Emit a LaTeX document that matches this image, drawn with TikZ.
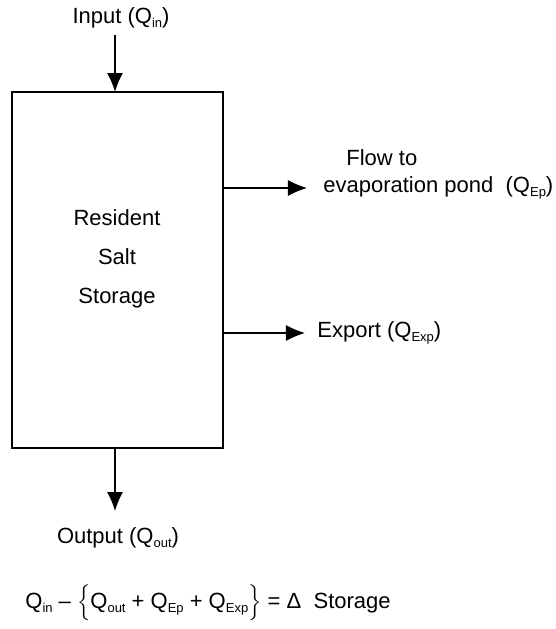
\documentclass[tikz,border=0pt]{standalone}
\usepackage{fontspec}
\setmainfont{Liberation Sans}
\usetikzlibrary{arrows.meta}
\newcommand{\qsub}[1]{Q\raisebox{-0.35ex}{\fontsize{6.5}{7}\selectfont #1}}

\begin{document}
\begin{tikzpicture}[x=0.5pt,y=-0.5pt,
    flow/.style={-{Latex[length=9.5pt,width=8pt]},line width=0.6pt},
    lbl/.style={font=\fontsize{11}{13}\selectfont,inner sep=0pt}]
    \useasboundingbox (0,0) rectangle (556,629);

    % storage box
    \node (store) [draw,line width=0.7pt,inner sep=0pt,outer sep=0pt,
      minimum width=105.5pt,minimum height=178pt] at (117.5,270) {};
    \node (storetext) [lbl,align=center,font=\fontsize{11}{19.5}\selectfont]
      at (117,259) {Resident\\Salt\\Storage};

    % input and output
    \node (input) [lbl] at (121,18) {Input (\qsub{in})};
    \coordinate (intop) at (115,35);
    \draw[flow] (intop) -- (intop |- store.north);

    \coordinate (outend) at (115,511);
    \draw[flow] (outend |- store.south) -- (outend);
    \node (output) [lbl] at (118,538) {Output (\qsub{out})};

    % flows to the right
    \coordinate (epend) at (307,188);
    \draw[flow] (store.east |- epend) -- (epend);
    \node (flowto) [lbl,anchor=west] at (346,158) {Flow to};
    \node (pond) [lbl,anchor=west] at (323,188) {evaporation pond \ (\qsub{Ep})};

    \coordinate (expend) at (305,333);
    \draw[flow] (store.east |- expend) -- (expend);
    \node (export) [lbl,anchor=west] at (317,333) {Export (\qsub{Exp})};

    % balance
    \node (balance) [lbl,anchor=west] at (25,603)
      {\qsub{in} -- $\Big\{$\qsub{out} + \qsub{Ep} + \qsub{Exp}$\Big\}$ = Δ\ \ Storage};
\end{tikzpicture}
\end{document}
